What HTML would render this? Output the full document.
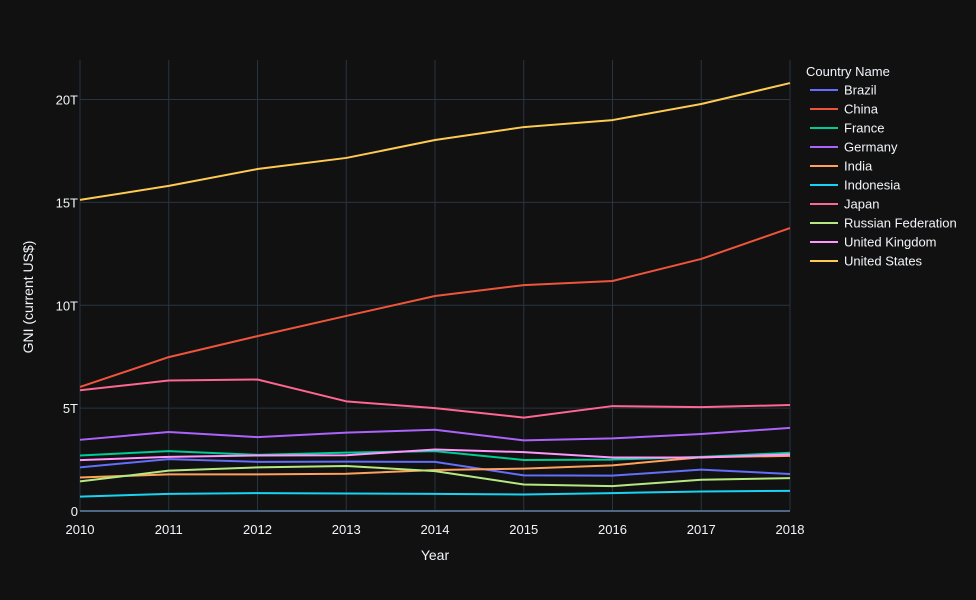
<!DOCTYPE html>
<html><head><meta charset="utf-8"><style>
body{margin:0;background:#111111;}
svg{display:block;font-family:"Liberation Sans",sans-serif;}
</style></head><body>
<svg id="chart" width="976" height="600">
<rect width="976" height="600" fill="#111111"/>
<g id="grid"></g><g id="lines"></g><g id="axes"></g><g id="legend"></g>
</svg>
<script>
const years = [2010,2011,2012,2013,2014,2015,2016,2017,2018];
const countries = ["Brazil","China","France","Germany","India","Indonesia","Japan","Russian Federation","United Kingdom","United States"];
const colors = ["#636efa","#EF553B","#00cc96","#ab63fa","#FFA15A","#19d3f3","#FF6692","#B6E880","#FF97FF","#FECB52"];
const brazil = [2.12,2.52,2.39,2.40,2.39,1.73,1.72,2.01,1.80];
const china = [6.03,7.48,8.50,9.48,10.45,10.98,11.18,12.25,13.75];
const france = [2.70,2.91,2.73,2.84,2.91,2.48,2.50,2.63,2.83];
const germany = [3.46,3.84,3.59,3.81,3.95,3.43,3.53,3.74,4.04];
const india = [1.63,1.78,1.78,1.81,1.99,2.06,2.22,2.61,2.68];
const indonesia = [0.70,0.83,0.87,0.85,0.83,0.80,0.87,0.95,0.98];
const japan = [5.87,6.34,6.39,5.33,5.00,4.54,5.10,5.05,5.15];
const russia = [1.44,1.96,2.12,2.19,1.94,1.29,1.21,1.52,1.60];
const uk = [2.47,2.63,2.70,2.71,2.99,2.86,2.60,2.60,2.75];
const us = [15.12,15.80,16.62,17.16,18.03,18.66,19.00,19.78,20.80];
const series = [brazil,china,france,germany,india,indonesia,japan,russia,uk,us];
const yTicks = [0,5,10,15,20];
const yTickLabels = ["0","5T","10T","15T","20T"];

const NS="http://www.w3.org/2000/svg";
const x0=80,x1=790,y0=511,pxPerT=20.575;
const xs=v=>x0+(v-2010)*(x1-x0)/8;
const ys=v=>y0-v*pxPerT;
function mk(tag,attrs,parent){const e=document.createElementNS(NS,tag);for(const k in attrs)e.setAttribute(k,attrs[k]);parent.appendChild(e);return e;}
const grid=document.getElementById('grid'),lines=document.getElementById('lines'),axes=document.getElementById('axes'),legend=document.getElementById('legend');
years.forEach(y=>{
  const l=mk('line',{x1:xs(y),x2:xs(y),y1:60,y2:y0,stroke:'#283442','stroke-width':1},grid);
  
  
  const t=mk('text',{x:xs(y),y:534,fill:'#f2f5fa','font-size':13,'text-anchor':'middle'},axes);
  t.textContent=y;
  
  
});
yTicks.forEach((v,i)=>{
  const l=mk('line',{x1:x0,x2:x1,y1:ys(v),y2:ys(v),stroke:v===0?'#506784':'#283442','stroke-width':v===0?2:1},grid);
  
  
  const t=mk('text',{x:x0-2,y:ys(v)+5,fill:'#f2f5fa','font-size':13,'text-anchor':'end'},axes);
  t.textContent=yTickLabels[i];
  
  
});
const xt=mk('text',{x:435,y:560,fill:'#f2f5fa','font-size':14,'text-anchor':'middle'},axes);
xt.textContent='Year';


const yt=mk('text',{x:33,y:297,fill:'#f2f5fa','font-size':14,'text-anchor':'middle',transform:'rotate(-90 33 297)'},axes);
yt.textContent='GNI (current US$)';


series.forEach((s,i)=>{
  const p=mk('polyline',{points:s.map((v,j)=>xs(years[j])+','+ys(v)).join(' '),fill:'none',stroke:colors[i],'stroke-width':2,'stroke-linejoin':'round'},lines);
  
  
});
const lt=mk('text',{x:806,y:76,fill:'#f2f5fa','font-size':13},legend);
lt.textContent='Country Name';


countries.forEach((c,i)=>{
  const y=90+i*19;
  const g=mk('g',{},legend);
  
  
  mk('line',{x1:810,x2:838,y1:y,y2:y,stroke:colors[i],'stroke-width':2},g);
  const t=mk('text',{x:844,y:y+4.5,fill:'#f2f5fa','font-size':13},g);
  t.textContent=c;
});
</script>
</body></html>
